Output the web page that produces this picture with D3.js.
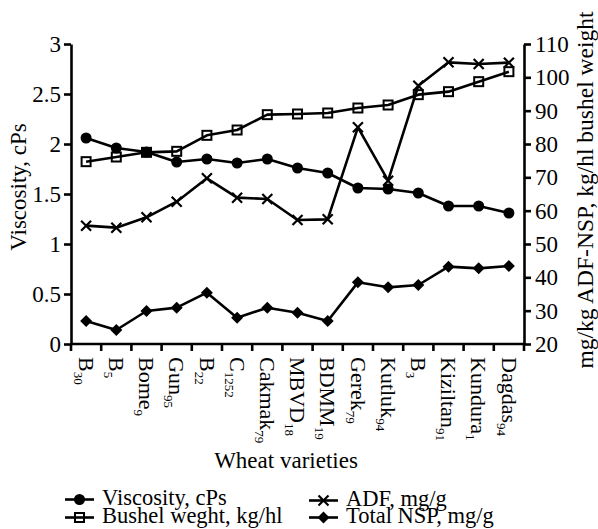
<!DOCTYPE html>
<html>
<head>
<meta charset="utf-8">
<script src="https://cdn.jsdelivr.net/npm/d3@7"></script>
<style>
  html, body { margin: 0; padding: 0; background: #fff; }
  svg, svg text { font-family: "Liberation Serif", "Tinos", "Times New Roman", "DejaVu Serif", serif !important; }
</style>
</head>
<body>
<svg id="chart" width="598" height="529"></svg>
<script>
// ---- data ----
const varietyNames = ["B", "B", "Bome", "Gun", "B", "C", "Cakmak", "MBVD", "BDMM", "Gerek", "Kutluk", "B", "Kiziltan", "Kundura", "Dagdas"];
const varietySubs  = ["30", "5", "9", "95", "22", "1252", "79", "18", "19", "79", "94", "3", "91", "1", "94"];
const viscosity = [2.06, 1.96, 1.92, 1.82, 1.85, 1.81, 1.85, 1.76, 1.71, 1.56, 1.55, 1.51, 1.38, 1.38, 1.31];
const bushelWeight = [74.7, 76.1, 77.5, 77.8, 82.6, 84.2, 88.8, 89.0, 89.3, 90.8, 91.7, 94.8, 95.7, 98.7, 101.7];
const adf = [55.5, 54.9, 58.0, 62.7, 69.7, 63.9, 63.5, 57.2, 57.4, 85.0, 69.0, 97.5, 104.5, 104.0, 104.4];
const totalNSP = [26.9, 24.2, 29.9, 30.9, 35.4, 27.9, 30.9, 29.4, 26.9, 38.5, 37.0, 37.7, 43.2, 42.7, 43.4];
const leftTicks = [0, 0.5, 1, 1.5, 2, 2.5, 3];
const rightTicks = [20, 30, 40, 50, 60, 70, 80, 90, 100, 110];

const FONT = "'Liberation Serif', Tinos, 'Times New Roman', 'DejaVu Serif', serif";
const svg = d3.select("#chart").attr("font-family", FONT);
const M = { left: 71, right: 524, top: 44, bottom: 344 };
const idx = d3.range(varietyNames.length);

const x = d3.scaleBand().domain(idx).range([M.left, M.right]).padding(0);
const yL = d3.scaleLinear().domain([0, 3]).range([M.bottom, M.top]);
const yR = d3.scaleLinear().domain([20, 110]).range([M.bottom, M.top]);
const cx = i => x(i) + x.bandwidth() / 2;

const SW = 2.6;

// ---- axes ----
const gL = svg.append("g").attr("transform", `translate(${M.left},0)`)
  .call(d3.axisLeft(yL).tickValues(leftTicks).tickFormat(d3.format("")).tickSize(7).tickSizeOuter(0).tickPadding(3));
const gR = svg.append("g").attr("transform", `translate(${M.right},0)`)
  .call(d3.axisRight(yR).tickValues(rightTicks).tickSize(7).tickSizeOuter(0).tickPadding(4));
[gL, gR].forEach(g => {
  g.attr("font-family", FONT).attr("font-size", 23);
  g.selectAll("path.domain").attr("stroke", "#000").attr("stroke-width", SW);
  g.selectAll(".tick line").attr("stroke", "#000").attr("stroke-width", SW);
  g.selectAll(".tick text").attr("fill", "#000").attr("font-size", 23).style("font-family", FONT);
});

// x axis line with ticks at band boundaries
const gX = svg.append("g").attr("transform", `translate(0,${M.bottom})`);
gX.append("line").attr("x1", M.left).attr("x2", M.right).attr("y1", 0).attr("y2", 0)
  .attr("stroke", "#000").attr("stroke-width", SW);
const bounds = d3.range(varietyNames.length + 1).map(i => M.left + i * x.step());
gX.selectAll("line.tk").data(bounds).join("line").attr("class", "tk")
  .attr("x1", d => d).attr("x2", d => d).attr("y1", 0).attr("y2", 7)
  .attr("stroke", "#000").attr("stroke-width", SW);

// category labels (rotated, with subscripts)
const labs = svg.append("g").selectAll("text").data(idx).join("text")
  .attr("transform", i => `translate(${cx(i)},357) rotate(90)`)
  .attr("dy", "0.33em")
  .attr("font-size", 22)
  .style("font-family", FONT)
  .attr("fill", "#000");
labs.append("tspan").text(i => varietyNames[i]);
labs.append("tspan").attr("font-size", 13).attr("dy", 5).text(i => varietySubs[i]);

// axis titles
svg.append("text").attr("transform", `translate(26,187) rotate(-90)`).style("font-family", FONT)
  .attr("text-anchor", "middle").attr("font-size", 23).text("Viscosity, cPs");
svg.append("text").attr("transform", `translate(593,190) rotate(-90)`).style("font-family", FONT)
  .attr("text-anchor", "middle").attr("font-size", 23.5).text("mg/kg ADF-NSP, kg/hl bushel weight");
svg.append("text").attr("x", 286).attr("y", 468).style("font-family", FONT)
  .attr("text-anchor", "middle").attr("font-size", 23).text("Wheat varieties");

// ---- series ----
const series = [
  { key: "bushel", values: bushelWeight, y: yR, sym: "square" },
  { key: "viscosity", values: viscosity, y: yL, sym: "circle" },
  { key: "adf", values: adf, y: yR, sym: "cross" },
  { key: "nsp", values: totalNSP, y: yR, sym: "diamond" }
];

function drawMarker(g, sym, px, py) {
  if (sym === "circle") {
    g.append("circle").attr("cx", px).attr("cy", py).attr("r", 5.5).attr("fill", "#000");
  } else if (sym === "square") {
    g.append("rect").attr("x", px - 4.5).attr("y", py - 4.5).attr("width", 9).attr("height", 9)
      .attr("fill", "none").attr("stroke", "#000").attr("stroke-width", 2);
  } else if (sym === "cross") {
    const s = 5;
    g.append("path").attr("d", `M${px - s},${py - s}L${px + s},${py + s}M${px - s},${py + s}L${px + s},${py - s}`)
      .attr("stroke", "#000").attr("stroke-width", 2.2).attr("fill", "none");
  } else if (sym === "diamond") {
    const s = 6;
    g.append("path").attr("d", `M${px},${py - s}L${px + s},${py}L${px},${py + s}L${px - s},${py}Z`).attr("fill", "#000");
  }
}

series.forEach(s => {
  const line = d3.line().x((d, i) => cx(i)).y(d => s.y(d));
  svg.append("path").datum(s.values).attr("d", line)
    .attr("fill", "none").attr("stroke", "#000").attr("stroke-width", SW).attr("stroke-linejoin", "round");
  const g = svg.append("g");
  s.values.forEach((v, i) => drawMarker(g, s.sym, cx(i), s.y(v)));
});

// ---- legend ----
const legendItems = [
  { label: "Viscosity, cPs", sym: "circle", x: 65, y: 505 },
  { label: "Bushel weght, kg/hl", sym: "square", x: 65, y: 523 },
  { label: "ADF, mg/g", sym: "cross", x: 309, y: 506 },
  { label: "Total NSP, mg/g", sym: "diamond", x: 309, y: 523 }
];
const lg = svg.append("g");
legendItems.forEach(it => {
  const my = it.y - 5.5;
  lg.append("line").attr("x1", it.x).attr("x2", it.x + 29).attr("y1", my).attr("y2", my)
    .attr("stroke", "#000").attr("stroke-width", SW);
  drawMarker(lg, it.sym, it.x + 14.5, my);
  lg.append("text").attr("x", it.x + 37).attr("y", it.y).style("font-family", FONT)
    .attr("font-size", 22.5).text(it.label);
});
</script>
</body>
</html>
